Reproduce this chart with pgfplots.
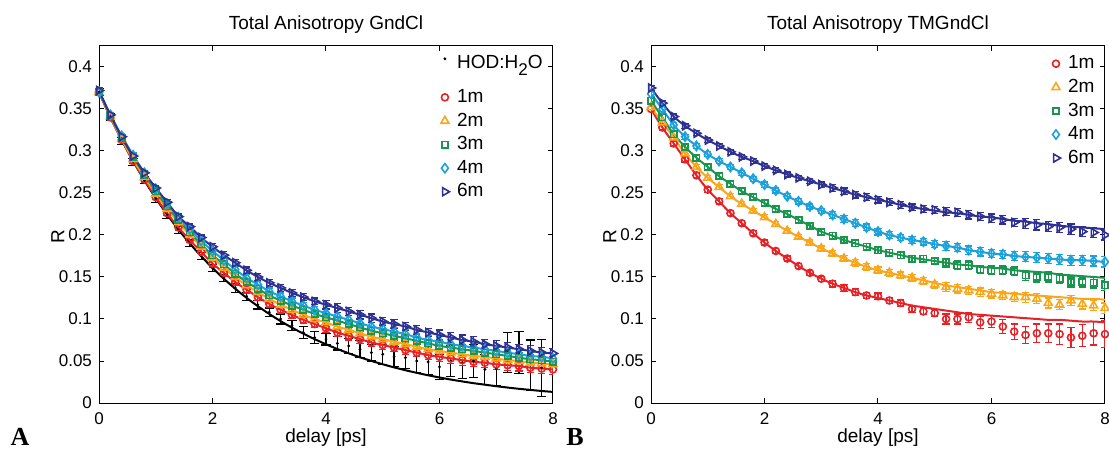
\documentclass[border=0pt]{standalone}
\usepackage{fontspec}
\setmainfont{Liberation Sans}
\newfontfamily\panelfont{Liberation Serif}
\usepackage{pgfplots}
\usepackage{pgfplotstable}
\pgfplotsset{compat=1.18}
\definecolor{cR}{RGB}{232,33,39}
\definecolor{cO}{RGB}{250,166,26}
\definecolor{cG}{RGB}{24,150,78}
\definecolor{cC}{RGB}{28,162,218}
\definecolor{cB}{RGB}{46,49,146}
\newcommand\fs{\fontsize{9.5}{11}\selectfont}
\newcommand\ts{\fontsize{8.5}{10}\selectfont}

% left panel: t, black data, black error, black fit, 1m 2m 3m 4m 6m, error
\pgfplotstableread{
t    k     ke    kf     r     o     g     c     p     e
0.0  0.370 0.004 0.3700 0.370 0.370 0.370 0.370 0.372 0.003
0.2  0.340 0.004 0.3404 0.340 0.341 0.342 0.343 0.343 0.003
0.4  0.312 0.004 0.3132 0.313 0.314 0.316 0.318 0.317 0.003
0.6  0.287 0.004 0.2882 0.288 0.290 0.293 0.295 0.294 0.003
0.8  0.265 0.004 0.2651 0.266 0.269 0.272 0.274 0.274 0.003
1.0  0.243 0.004 0.2439 0.245 0.249 0.252 0.255 0.256 0.003
1.2  0.224 0.004 0.2244 0.226 0.231 0.234 0.237 0.239 0.003
1.4  0.206 0.004 0.2065 0.209 0.215 0.218 0.221 0.222 0.003
1.6  0.190 0.004 0.1900 0.194 0.200 0.203 0.207 0.210 0.003
1.8  0.175 0.004 0.1748 0.180 0.186 0.189 0.193 0.197 0.003
2.0  0.161 0.004 0.1608 0.166 0.173 0.176 0.181 0.186 0.004
2.2  0.149 0.004 0.1479 0.155 0.161 0.165 0.170 0.176 0.004
2.4  0.137 0.005 0.1361 0.144 0.150 0.154 0.159 0.167 0.004
2.6  0.127 0.005 0.1252 0.135 0.140 0.144 0.149 0.158 0.004
2.8  0.117 0.005 0.1152 0.126 0.132 0.136 0.141 0.150 0.004
3.0  0.108 0.005 0.1060 0.118 0.124 0.128 0.133 0.143 0.004
3.2  0.100 0.006 0.0975 0.111 0.117 0.122 0.127 0.137 0.004
3.4  0.092 0.006 0.0897 0.105 0.111 0.116 0.121 0.131 0.004
3.6  0.084 0.007 0.0826 0.099 0.105 0.111 0.116 0.126 0.004
3.8  0.078 0.007 0.0760 0.094 0.100 0.106 0.111 0.121 0.004
4.0  0.076 0.007 0.0699 0.089 0.096 0.102 0.107 0.117 0.005
4.2  0.071 0.008 0.0643 0.084 0.091 0.098 0.103 0.113 0.005
4.4  0.068 0.009 0.0592 0.080 0.087 0.094 0.099 0.109 0.005
4.6  0.064 0.010 0.0544 0.076 0.083 0.090 0.095 0.105 0.005
4.8  0.060 0.010 0.0501 0.072 0.079 0.086 0.091 0.101 0.005
5.0  0.058 0.012 0.0461 0.069 0.076 0.083 0.088 0.097 0.005
5.2  0.055 0.012 0.0424 0.066 0.073 0.080 0.085 0.094 0.005
5.4  0.054 0.013 0.0390 0.063 0.070 0.077 0.082 0.091 0.005
5.6  0.050 0.014 0.0359 0.060 0.067 0.074 0.078 0.087 0.005
5.8  0.049 0.015 0.0330 0.057 0.064 0.071 0.075 0.084 0.005
6.0  0.043 0.015 0.0304 0.055 0.062 0.068 0.073 0.081 0.006
6.2  0.050 0.018 0.0279 0.053 0.060 0.066 0.070 0.078 0.006
6.4  0.048 0.019 0.0257 0.051 0.058 0.064 0.068 0.075 0.006
6.6  0.050 0.020 0.0236 0.049 0.056 0.062 0.066 0.073 0.006
6.8  0.040 0.018 0.0218 0.048 0.055 0.060 0.064 0.070 0.006
7.0  0.041 0.020 0.0200 0.046 0.053 0.058 0.062 0.068 0.006
7.2  0.060 0.024 0.0184 0.045 0.051 0.056 0.060 0.066 0.006
7.4  0.060 0.025 0.0169 0.044 0.050 0.054 0.058 0.064 0.006
7.6  0.045 0.030 0.0156 0.042 0.048 0.052 0.056 0.062 0.006
7.8  0.042 0.034 0.0143 0.041 0.047 0.051 0.055 0.060 0.006
8.0  nan   nan   0.0132 0.040 0.046 0.049 0.053 0.059 0.006
}\lefttab

% right panel: fits (r o g c p) and data (rd od gd pd), errors e and re
\pgfplotstableread{
t    r     rd    o     od    g     gd    c     p     pd    e     re
0.0  0.350 0.350 0.352 0.352 0.360 0.360 0.368 0.375 0.375 0.003 0.003
0.2  0.328 0.328 0.334 0.334 0.340 0.340 0.350 0.357 0.357 0.003 0.003
0.4  0.309 0.309 0.316 0.316 0.320 0.320 0.331 0.341 0.341 0.003 0.003
0.6  0.290 0.290 0.297 0.297 0.305 0.305 0.317 0.330 0.330 0.003 0.003
0.8  0.271 0.271 0.281 0.281 0.292 0.292 0.306 0.321 0.321 0.003 0.003
1.0  0.254 0.254 0.268 0.268 0.281 0.281 0.296 0.313 0.313 0.003 0.003
1.2  0.240 0.240 0.257 0.257 0.270 0.270 0.288 0.306 0.306 0.003 0.003
1.4  0.226 0.226 0.246 0.246 0.261 0.261 0.281 0.299 0.299 0.003 0.003
1.6  0.214 0.214 0.237 0.237 0.252 0.252 0.274 0.293 0.293 0.003 0.003
1.8  0.202 0.202 0.229 0.229 0.245 0.245 0.267 0.288 0.288 0.003 0.003
2.0  0.191 0.191 0.221 0.221 0.238 0.238 0.260 0.282 0.282 0.003 0.003
2.2  0.181 0.181 0.213 0.213 0.231 0.231 0.253 0.277 0.277 0.003 0.003
2.4  0.172 0.172 0.205 0.205 0.225 0.225 0.246 0.272 0.272 0.003 0.003
2.6  0.163 0.163 0.198 0.198 0.218 0.218 0.240 0.268 0.268 0.003 0.003
2.8  0.155 0.155 0.191 0.191 0.211 0.211 0.234 0.264 0.264 0.003 0.003
3.0  0.148 0.148 0.184 0.184 0.204 0.204 0.229 0.260 0.260 0.003 0.003
3.2  0.142 0.142 0.178 0.178 0.199 0.199 0.224 0.256 0.256 0.004 0.004
3.4  0.137 0.137 0.172 0.172 0.194 0.194 0.219 0.252 0.252 0.004 0.004
3.6  0.132 0.132 0.167 0.167 0.190 0.190 0.214 0.248 0.248 0.004 0.004
3.8  0.128 0.128 0.162 0.162 0.186 0.186 0.209 0.245 0.245 0.004 0.004
4.0  0.125 0.127 0.158 0.158 0.182 0.182 0.204 0.242 0.242 0.004 0.004
4.2  0.122 0.122 0.155 0.155 0.179 0.179 0.200 0.239 0.239 0.004 0.004
4.4  0.119 0.119 0.152 0.152 0.176 0.176 0.197 0.236 0.236 0.004 0.004
4.6  0.116 0.112 0.149 0.149 0.173 0.172 0.194 0.233 0.233 0.004 0.004
4.8  0.114 0.109 0.146 0.145 0.171 0.172 0.192 0.231 0.231 0.004 0.004
5.0  0.112 0.107 0.143 0.141 0.169 0.169 0.189 0.229 0.230 0.004 0.004
5.2  0.110 0.100 0.140 0.138 0.167 0.167 0.187 0.227 0.228 0.005 0.006
5.4  0.108 0.100 0.138 0.136 0.165 0.164 0.185 0.226 0.227 0.005 0.006
5.6  0.106 0.102 0.136 0.134 0.164 0.164 0.182 0.224 0.224 0.005 0.006
5.8  0.105 0.096 0.134 0.132 0.162 0.159 0.180 0.222 0.222 0.005 0.007
6.0  0.104 0.097 0.132 0.130 0.161 0.158 0.178 0.221 0.220 0.005 0.007
6.2  0.103 0.091 0.131 0.128 0.160 0.158 0.177 0.219 0.218 0.005 0.008
6.4  0.102 0.085 0.130 0.126 0.158 0.157 0.175 0.217 0.215 0.005 0.009
6.6  0.101 0.081 0.129 0.126 0.157 0.152 0.174 0.216 0.214 0.006 0.010
6.8  0.100 0.083 0.128 0.124 0.156 0.150 0.173 0.214 0.212 0.006 0.011
7.0  0.099 0.083 0.127 0.119 0.155 0.150 0.172 0.213 0.210 0.006 0.011
7.2  0.099 0.082 0.126 0.117 0.153 0.148 0.171 0.211 0.209 0.006 0.012
7.4  0.098 0.078 0.125 0.122 0.152 0.144 0.170 0.210 0.207 0.006 0.012
7.6  0.097 0.080 0.124 0.118 0.151 0.144 0.170 0.209 0.204 0.006 0.013
7.8  0.097 0.083 0.124 0.116 0.150 0.143 0.169 0.208 0.203 0.006 0.014
8.0  0.096 0.082 0.123 0.113 0.149 0.140 0.168 0.207 0.200 0.006 0.016
}\righttab

\pgfplotsset{
  panel/.style={
    scale only axis, width=227pt, height=178.5pt,
    xmin=0, xmax=8, ymin=0, ymax=0.425,
    xtick={0,2,4,6,8}, xticklabels={0,2,4,6,8},
    ytick={0,0.05,0.1,0.15,0.2,0.25,0.3,0.35,0.4},
    yticklabels={0,0.05,0.1,0.15,0.2,0.25,0.3,0.35,0.4},
    /pgf/number format/assume math mode=true,
    tick align=inside, major tick length=2.5pt,
    axis line style={line width=0.5pt},
    every tick/.style={black, line width=0.5pt},
    tick label style={font=\ts},
    xticklabel style={anchor=base, yshift=-10.5pt, inner sep=0pt},
    label style={font=\fs},
    xlabel={delay [ps]},
    xlabel style={at={(axis description cs:0.5,0)}, anchor=base, yshift=-19.5pt, inner sep=0pt},
    ylabel={R},
    ylabel style={at={(axis description cs:-0.0755,0.466)}, anchor=south, inner sep=0pt},
    title style={font=\fs, at={(axis description cs:0.5,1)}, anchor=base, yshift=2pt, inner sep=0pt},
    legend style={draw=none, fill=none, font=\fs, legend cell align=left,
      anchor=north east, inner sep=0pt, row sep=0.5pt,
      nodes={inner sep=1.6pt}},
    legend image code/.code={\draw[mark repeat=1,##1] plot coordinates {(0pt,0pt)};
      \path[draw=none, fill=none] (-2pt,0pt) -- (4.5pt,0pt);},
  },
  hodimg/.style={legend image code/.code={\draw[mark repeat=1,##1] plot coordinates {(0pt,5pt)};
      \path[draw=none, fill=none] (-2pt,5pt) -- (4.5pt,5pt);}},
  fitline/.style={#1, line width=1pt, smooth, no markers, forget plot},
  eb/.style={error bars/.cd, y dir=both, y explicit,
    error bar style={line width=0.6pt},
    error mark options={rotate=90, line width=0.6pt, mark size=#1}},
  mR/.style={only marks, cR, mark=o, mark size=1.75pt, mark options={line width=0.8pt}},
  mO/.style={only marks, cO, mark=triangle, mark size=2.3pt, mark options={line width=0.8pt}},
  mG/.style={only marks, cG, mark=square, mark size=1.6pt, mark options={line width=0.8pt}},
  mC/.style={only marks, cC, mark=diamond, mark size=2.3pt, mark options={line width=0.8pt}},
  mB/.style={only marks, cB, mark=triangle, mark size=2.3pt, mark options={rotate=-90, line width=0.8pt}},
}

\begin{document}
\begin{tikzpicture}
\path[use as bounding box] (0,0) rectangle (554.5pt,225pt);

\begin{axis}[panel, at={(49.5pt,23.5pt)}, anchor=south west,
  title={Total Anisotropy GndCl},
  legend style={at={(axis description cs:0.985,0.983)}}]
  \addplot[only marks, black, mark=*, mark size=0.5pt, hodimg, eb=2.3pt] table[x=t, y=k, y error=ke] {\lefttab};
  \addplot[mR, eb=1.8pt] table[x=t, y=r, y error=e] {\lefttab};
  \addplot[mO, eb=1.8pt] table[x=t, y=o, y error=e] {\lefttab};
  \addplot[mG, eb=1.8pt] table[x=t, y=g, y error=e] {\lefttab};
  \addplot[mC, eb=1.8pt] table[x=t, y=c, y error=e] {\lefttab};
  \addplot[mB, eb=1.8pt] table[x=t, y=p, y error=e] {\lefttab};
  \addplot[fitline=black] table[x=t, y=kf] {\lefttab};
  \addplot[fitline=cR] table[x=t, y=r] {\lefttab};
  \addplot[fitline=cO] table[x=t, y=o] {\lefttab};
  \addplot[fitline=cG] table[x=t, y=g] {\lefttab};
  \addplot[fitline=cC] table[x=t, y=c] {\lefttab};
  \addplot[fitline=cB] table[x=t, y=p] {\lefttab};
  \legend{\raisebox{5pt}{HOD:H\raisebox{-3.5pt}{\fontsize{8.5}{9}\selectfont 2}O}, 1m, 2m, 3m, 4m, 6m}
\end{axis}

\begin{axis}[panel, at={(325.5pt,23.5pt)}, anchor=south west,
  title={Total Anisotropy TMGndCl},
  legend style={at={(axis description cs:0.985,0.983)}}]
  \addplot[mR, eb=1.8pt] table[x=t, y=rd, y error=re] {\righttab};
  \addplot[mO, eb=1.8pt] table[x=t, y=od, y error=e] {\righttab};
  \addplot[mG, eb=1.8pt] table[x=t, y=gd, y error=e] {\righttab};
  \addplot[mC, eb=1.8pt] table[x=t, y=c, y error=e] {\righttab};
  \addplot[mB, eb=1.8pt] table[x=t, y=pd, y error=e] {\righttab};
  \addplot[fitline=cR] table[x=t, y=r] {\righttab};
  \addplot[fitline=cO] table[x=t, y=o] {\righttab};
  \addplot[fitline=cG] table[x=t, y=g] {\righttab};
  \addplot[fitline=cC] table[x=t, y=c] {\righttab};
  \addplot[fitline=cB] table[x=t, y=p] {\righttab};
  \legend{1m, 2m, 3m, 4m, 6m}
\end{axis}

\node[font=\fontsize{13}{13}\selectfont\panelfont\bfseries] at (10pt,6.5pt) {A};
\node[font=\fontsize{13}{13}\selectfont\panelfont\bfseries] at (287.5pt,6.5pt) {B};
\end{tikzpicture}
\end{document}
